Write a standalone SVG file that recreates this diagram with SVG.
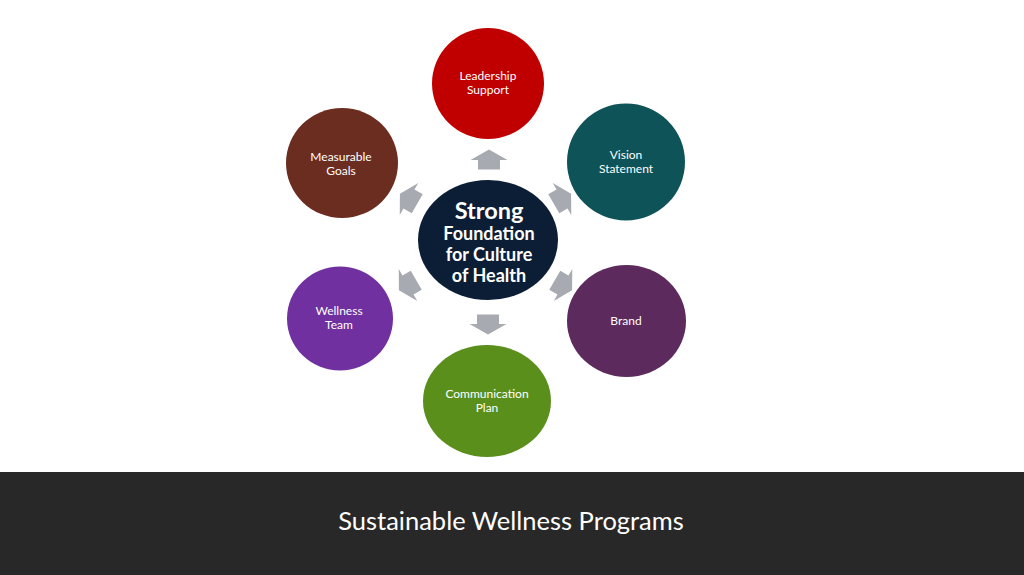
<svg xmlns="http://www.w3.org/2000/svg" width="1024" height="575" viewBox="0 0 1024 575">
<style>
.lbl{font-family:Lato,"Noto Sans","Liberation Sans",sans-serif;font-size:12px;fill:#ffffff;text-anchor:middle}
.ctr{font-family:Lato,"Noto Sans","Liberation Sans",sans-serif;font-weight:bold;fill:#ffffff;text-anchor:middle}
.arr{fill:#A7AAB0}
</style>
<defs>
<path id="arrow" d="M0,-10.5 L18.5,0 L11,0 L11,9.5 L-11,9.5 L-11,0 L-18.5,0 Z"/>
</defs>
<rect x="0" y="0" width="1024" height="575" fill="#ffffff"/>
<rect x="0" y="472" width="1024" height="103" fill="#282828"/>
<text x="511" y="530" font-family="Lato,'Noto Sans','Liberation Sans',sans-serif" font-size="25.5" fill="#ffffff" text-anchor="middle">Sustainable Wellness Programs</text>

<g id="connectors" class="arr">
<use href="#arrow" transform="translate(489,160)"/>
<use href="#arrow" transform="translate(562,199) rotate(60)"/>
<use href="#arrow" transform="translate(563,285) rotate(120)"/>
<use href="#arrow" transform="translate(488,324) rotate(180)"/>
<use href="#arrow" transform="translate(408,285) rotate(-120)"/>
<use href="#arrow" transform="translate(409,199) rotate(-60)"/>
</g>

<g id="center">
<ellipse cx="488" cy="240" rx="70" ry="60" fill="#0B1E35"/>
<text class="ctr" x="489" y="219" font-size="23.5">Strong</text>
<text class="ctr" x="489" y="240" font-size="18">Foundation</text>
<text class="ctr" x="489" y="261" font-size="18">for Culture</text>
<text class="ctr" x="489" y="282" font-size="18">of Health</text>
</g>

<g id="leadership">
<ellipse cx="488" cy="83.5" rx="56" ry="55.5" fill="#C00000"/>
<text class="lbl" x="488" y="80">Leadership</text>
<text class="lbl" x="488" y="94">Support</text>
</g>

<g id="vision">
<ellipse cx="626" cy="162" rx="59" ry="58.5" fill="#0E5358"/>
<text class="lbl" x="626" y="159">Vision</text>
<text class="lbl" x="626" y="173">Statement</text>
</g>

<g id="brand">
<ellipse cx="626.5" cy="321" rx="59.5" ry="56" fill="#5C2A5C"/>
<text class="lbl" x="626" y="325">Brand</text>
</g>

<g id="communication">
<ellipse cx="487" cy="401" rx="64" ry="56" fill="#5A8F1C"/>
<text class="lbl" x="487" y="398">Communication</text>
<text class="lbl" x="487" y="412">Plan</text>
</g>

<g id="wellness">
<ellipse cx="340" cy="318.5" rx="53" ry="52" fill="#7030A0"/>
<text class="lbl" x="339" y="315">Wellness</text>
<text class="lbl" x="339" y="329">Team</text>
</g>

<g id="measurable">
<ellipse cx="342" cy="163" rx="56" ry="55" fill="#6B2D20"/>
<text class="lbl" x="341" y="161">Measurable</text>
<text class="lbl" x="341" y="175">Goals</text>
</g>
</svg>
